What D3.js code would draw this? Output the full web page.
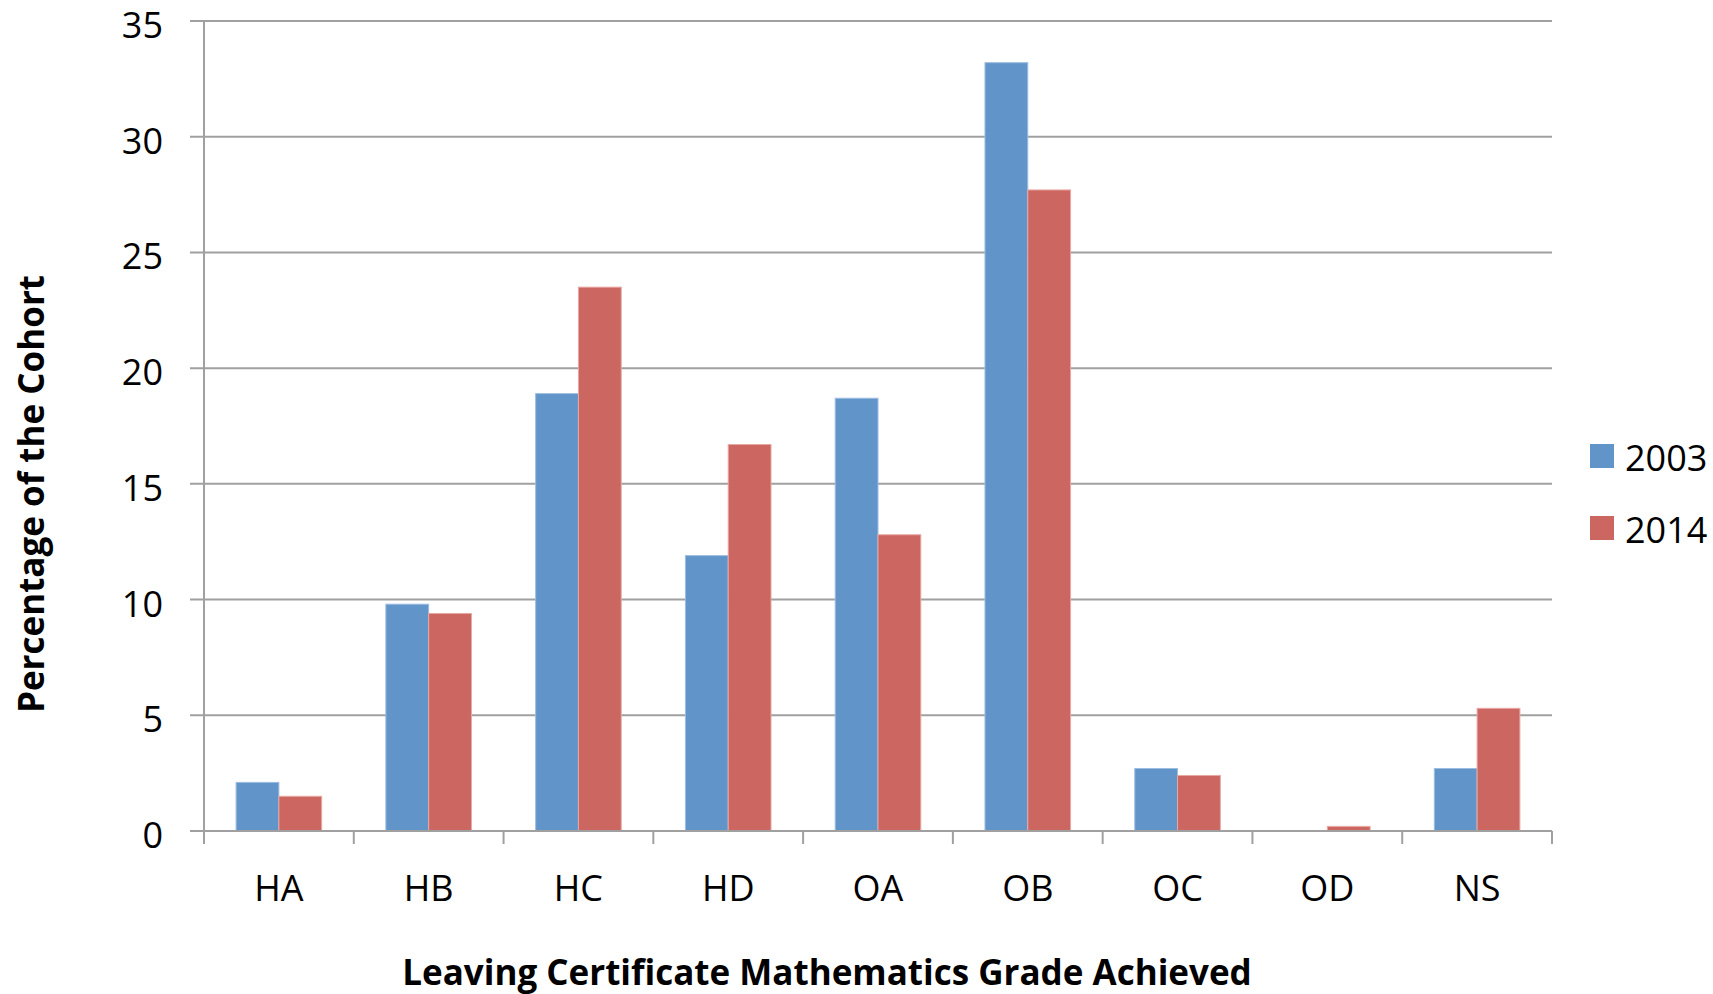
<!DOCTYPE html>
<html>
<head>
<meta charset="utf-8">
<script src="https://cdn.jsdelivr.net/npm/d3@7"></script>
<style>
  html, body { margin: 0; padding: 0; background: #fff; }
  svg { display: block; font-family: "Open Sans", "Noto Sans", sans-serif; }
</style>
</head>
<body>
<svg id="chart" width="1713" height="994"></svg>
<script>
// Leaving Certificate Mathematics grade distribution, 2003 vs 2014
const grades = ["HA", "HB", "HC", "HD", "OA", "OB", "OC", "OD", "NS"];
const seriesNames = ["2003", "2014"];
const values2003 = [2.1, 9.8, 18.9, 11.9, 18.7, 33.2, 2.7, 0, 2.7];
const values2014 = [1.5, 9.4, 23.5, 16.7, 12.8, 27.7, 2.4, 0.2, 5.3];
const yTicks = [0, 5, 10, 15, 20, 25, 30, 35];
const colors = ["#6195c9", "#cc6660"];

(function () {
  const svg = d3.select("#chart");
  const plotLeft = 204, plotRight = 1552, plotTop = 21, plotBottom = 831;
  const gridColor = "#a0a0a0";

  const x = d3.scaleBand().domain(grades).range([plotLeft, plotRight]).paddingInner(0).paddingOuter(0);
  const groupPad = 0.75 / 3.5; // 150% gap between groups
  const xSeries = d3.scaleBand().domain(seriesNames)
    .range([x.bandwidth() * groupPad, x.bandwidth() * (1 - groupPad)]);
  const y = d3.scaleLinear().domain([0, 35]).range([plotBottom, plotTop]);

  // horizontal gridlines with short ticks left of the axis
  svg.append("g").selectAll("line").data(yTicks).join("line")
    .attr("x1", plotLeft - 14).attr("x2", plotRight)
    .attr("y1", d => y(d)).attr("y2", d => y(d))
    .attr("stroke", gridColor).attr("stroke-width", 2);

  // y axis labels
  svg.append("g").selectAll("text").data(yTicks).join("text")
    .attr("x", 163).attr("y", d => y(d) + 17)
    .attr("text-anchor", "end")
    .attr("font-size", 36).attr("fill", "#000")
    .text(d => d);

  // bars
  const rows = grades.map((g, i) => ({ g, vals: [values2003[i], values2014[i]] }));
  const groups = svg.append("g").selectAll("g").data(rows).join("g")
    .attr("transform", d => `translate(${x(d.g)},0)`);
  groups.selectAll("rect").data(d => d.vals.map((v, k) => ({ v, k })))
    .join("rect")
    .attr("x", d => xSeries(seriesNames[d.k]))
    .attr("width", xSeries.bandwidth())
    .attr("y", d => y(d.v))
    .attr("height", d => y(0) - y(d.v))
    .attr("fill", d => colors[d.k])
    .attr("stroke", d => d.k === 0 ? "#9dbde0" : "#e8a8a4")
    .attr("stroke-width", d => d.v > 0 ? 1 : 0);

  // y axis line
  svg.append("line")
    .attr("x1", plotLeft).attr("x2", plotLeft).attr("y1", plotTop).attr("y2", plotBottom + 12)
    .attr("stroke", gridColor).attr("stroke-width", 2);

  // category boundary ticks below the baseline
  const boundaries = grades.map(g => x(g)).concat([plotRight]);
  svg.append("g").selectAll("line").data(boundaries).join("line")
    .attr("x1", d => d).attr("x2", d => d)
    .attr("y1", plotBottom).attr("y2", plotBottom + 13)
    .attr("stroke", gridColor).attr("stroke-width", 2);

  // baseline
  svg.append("line")
    .attr("x1", plotLeft - 14).attr("x2", plotRight).attr("y1", plotBottom).attr("y2", plotBottom)
    .attr("stroke", gridColor).attr("stroke-width", 2);

  // category labels
  svg.append("g").selectAll("text").data(grades).join("text")
    .attr("x", d => x(d) + x.bandwidth() / 2).attr("y", 901)
    .attr("text-anchor", "middle")
    .attr("font-size", 36).attr("fill", "#000")
    .text(d => d);

  // axis titles
  svg.append("text")
    .attr("x", 827).attr("y", 985)
    .attr("text-anchor", "middle")
    .attr("font-size", 35).attr("font-weight", "bold").attr("fill", "#000")
    .text("Leaving Certificate Mathematics Grade Achieved");

  svg.append("text")
    .attr("transform", `translate(44, 494) rotate(-90)`)
    .attr("text-anchor", "middle")
    .attr("font-size", 35).attr("font-weight", "bold").attr("fill", "#000")
    .text("Percentage of the Cohort");

  // legend
  const legend = svg.append("g").selectAll("g").data(seriesNames).join("g")
    .attr("transform", (d, i) => `translate(1590, ${444 + i * 72})`);
  legend.append("rect").attr("width", 24).attr("height", 24)
    .attr("fill", (d, i) => colors[i]);
  legend.append("text").attr("x", 35).attr("y", 27)
    .attr("font-size", 36).attr("fill", "#000")
    .text(d => d);
})();
</script>
</body>
</html>
